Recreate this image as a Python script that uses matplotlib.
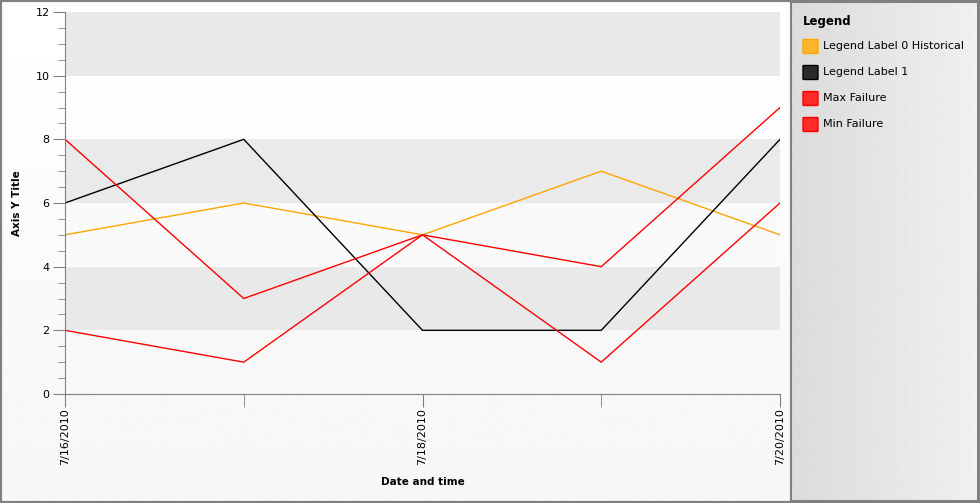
import datetime
import numpy as np
import matplotlib
matplotlib.use("Agg")
import matplotlib.pyplot as plt
import matplotlib.dates as mdates
from matplotlib.patches import Rectangle, FancyBboxPatch
from matplotlib.ticker import MultipleLocator, FuncFormatter

dates = [datetime.datetime(2010, 7, d) for d in (16, 17, 18, 19, 20)]
historical = [5, 6, 5, 7, 5]
label_1 = [6, 8, 2, 2, 8]
max_failure = [8, 3, 5, 4, 9]
min_failure = [2, 1, 5, 1, 6]

series_names = ["Legend Label 0 Historical", "Legend Label 1", "Max Failure", "Min Failure"]
series_colors = ["#ffa500", "#000000", "#ff0000", "#ff0000"]
swatch_faces = ["#ffb52e", "#2a2a2a", "#ff2a2a", "#ff2a2a"]

W, H = 980, 503
fig = plt.figure(figsize=(W / 100, H / 100), dpi=100)

# background gradient over whole figure
bg = fig.add_axes([0, 0, 1, 1], zorder=-10)
grad = np.linspace(1.0, 0.965, 256).reshape(-1, 1)
bg.imshow(grad, aspect="auto", cmap="gray", vmin=0, vmax=1, extent=[0, 1, 0, 1])
bg.set_xlim(0, 1)
bg.set_ylim(0, 1)
bg.axis("off")

ax = fig.add_axes([65 / W, (H - 394) / H, 715 / W, 382 / H])
ax.patch.set_alpha(0)

band_colors = ["#f8f8f8", "#e9e9e9", "#fafafa", "#eaeaea", "#fdfdfd", "#e9e9e9"]
for i, c in enumerate(band_colors):
    ax.axhspan(2 * i, 2 * i + 2, color=c, zorder=0, lw=0)

ax.plot(dates, historical, color=series_colors[0], lw=1)
ax.plot(dates, label_1, color=series_colors[1], lw=1)
ax.plot(dates, max_failure, color=series_colors[2], lw=1)
ax.plot(dates, min_failure, color=series_colors[3], lw=1)

ax.set_xlim(dates[0], dates[-1])
ax.set_ylim(0, 12)
ax.yaxis.set_major_locator(MultipleLocator(2))
ax.yaxis.set_minor_locator(MultipleLocator(0.5))
ax.xaxis.set_major_locator(mdates.DayLocator(interval=2))
ax.xaxis.set_minor_locator(mdates.DayLocator())
ax.xaxis.set_major_formatter(FuncFormatter(
    lambda v, p: "{0}/{1}/{2}".format(mdates.num2date(v).month, mdates.num2date(v).day, mdates.num2date(v).year)))

for s in ["top", "right"]:
    ax.spines[s].set_visible(False)
for s in ["left", "bottom"]:
    ax.spines[s].set_color("#808080")
ax.tick_params(axis="both", which="both", color="#808080", labelsize=8, pad=2)
ax.tick_params(axis="y", which="major", length=9)
ax.tick_params(axis="y", which="minor", length=5)
ax.tick_params(axis="x", which="both", length=9, pad=1)
plt.setp(ax.get_xticklabels(), rotation=90, va="top", ha="center")

ax.set_ylabel("Axis Y Title", fontsize=7.5, fontweight="bold", labelpad=10)
ax.set_xlabel("Date and time", fontsize=7.5, fontweight="bold", labelpad=9)

# legend panel
lx0, ly0, lx1, ly1 = 791, 2, 978, 501
lg = fig.add_axes([lx0 / W, (H - ly1) / H, (lx1 - lx0) / W, (ly1 - ly0) / H], zorder=5)
hgrad = np.linspace(0.86, 0.94, 256).reshape(1, -1)
lg.imshow(hgrad, aspect="auto", cmap="gray", vmin=0, vmax=1, extent=[0, 1, 0, 1])
lg.set_xlim(0, 1)
lg.set_ylim(0, 1)
lg.set_xticks([])
lg.set_yticks([])
for s in lg.spines.values():
    s.set_color("#808080")
    s.set_linewidth(1.5)

fig.text(803 / W, 1 - 21 / H, "Legend", fontsize=8.5, fontweight="bold", va="center", ha="left", zorder=10)
for i, name in enumerate(series_names):
    yc = 46 + 26 * i
    sw = FancyBboxPatch((804 / W, 1 - (yc + 7) / H), 13 / W, 13 / H,
                        boxstyle="round,pad=0.001", transform=fig.transFigure,
                        facecolor=swatch_faces[i], edgecolor=series_colors[i], lw=1, zorder=10)
    fig.add_artist(sw)
    fig.text(823 / W, 1 - yc / H, name, fontsize=8, va="center", ha="left", zorder=10)

# outer border
fig.add_artist(Rectangle((0, 0), 1, 1, transform=fig.transFigure, fill=False,
                         edgecolor="#808080", lw=3, zorder=20))

fig.savefig("out.png", dpi=100)
